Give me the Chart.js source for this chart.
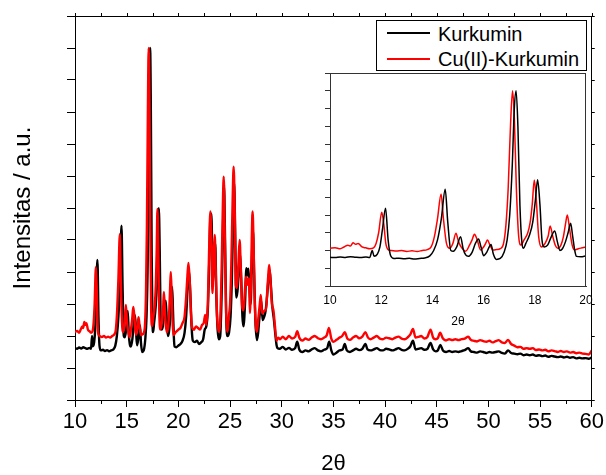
<!DOCTYPE html>
<html><head><meta charset="utf-8">
<script src="https://cdn.jsdelivr.net/npm/chart.js@4/dist/chart.umd.min.js"></script>
<style>
html,body{margin:0;padding:0;background:#fff;}
#wrap{position:relative;width:606px;height:475px;font-family:"Liberation Sans",Arial,sans-serif;overflow:hidden;}
#main{position:absolute;left:0;top:0;}
#inset{position:absolute;left:300px;top:60px;}
#legend{position:absolute;left:376px;top:20px;width:211px;height:51px;box-sizing:border-box;border:1px solid #000;background:#fff;}
.row{position:absolute;left:0;height:24px;width:200px;}
.sw{position:absolute;left:10px;width:43px;height:0;border-top:2px solid #000;}
.lab{position:absolute;left:61px;top:0;white-space:nowrap;font-size:20px;line-height:24px;color:#000;}
</style></head>
<body>
<div id="wrap">
<canvas id="main" width="606" height="475"></canvas>
<canvas id="inset" width="300" height="275"></canvas>
<div id="legend"></div>
</div>
<script>
// ---- data: [2θ, intensity (a.u., axis-tick units)] ----
const seriesNames = ['Kurkumin', 'Cu(II)-Kurkumin'];
const seriesColors = ['#000000', '#ff0000'];
const mainXTicks = [10, 15, 20, 25, 30, 35, 40, 45, 50, 55, 60];
const insetXTicks = [10, 12, 14, 16, 18, 20];

const kurkumin = [
[10.0,1.62],[10.2,1.60],[10.4,1.64],[10.6,1.61],[10.8,1.65],[11.0,1.62],[11.2,1.60],[11.4,1.63],[11.55,1.60],[11.65,2.0],[11.72,1.68],[11.85,1.8],[11.95,2.2],[12.05,3.2],[12.17,4.38],[12.27,2.6],[12.37,1.7],[12.5,1.55],[12.7,1.57],[12.9,1.53],[13.1,1.56],[13.3,1.52],[13.5,1.55],[13.7,1.58],[13.9,1.7],[14.05,2.0],[14.2,2.6],[14.35,3.8],[14.5,5.45],[14.6,3.6],[14.72,2.0],[14.82,1.96],[14.95,2.2],[15.1,2.78],[15.2,2.1],[15.3,1.75],[15.4,1.67],[15.55,1.9],[15.68,2.4],[15.8,2.65],[15.9,2.2],[16.0,1.71],[16.12,1.9],[16.22,2.2],[16.29,2.34],[16.38,1.8],[16.5,1.5],[16.65,1.55],[16.8,1.9],[16.92,2.6],[17.02,4.0],[17.12,6.8],[17.2,10.0],[17.27,11.0],[17.34,9.0],[17.42,4.5],[17.5,2.4],[17.56,2.12],[17.65,2.4],[17.8,2.9],[17.92,3.6],[18.02,4.8],[18.11,5.99],[18.2,4.6],[18.28,2.6],[18.37,2.2],[18.5,2.3],[18.62,2.7],[18.78,3.1],[18.88,2.5],[18.98,2.0],[19.08,2.1],[19.2,2.5],[19.3,3.0],[19.4,3.53],[19.48,2.8],[19.56,2.0],[19.63,1.67],[19.8,1.65],[20.0,1.7],[20.2,1.75],[20.4,1.85],[20.6,2.1],[20.75,2.6],[20.88,3.4],[21.02,4.06],[21.15,3.4],[21.28,2.3],[21.4,1.85],[21.6,1.81],[21.8,1.85],[22.0,1.75],[22.2,1.8],[22.4,1.9],[22.55,2.2],[22.7,2.3],[22.85,2.8],[22.98,4.2],[23.12,5.83],[23.22,5.6],[23.33,3.6],[23.45,4.4],[23.57,4.9],[23.68,3.2],[23.8,2.2],[23.92,1.9],[24.05,2.0],[24.18,3.2],[24.3,5.0],[24.42,6.72],[24.52,5.0],[24.63,2.6],[24.75,2.0],[24.9,2.1],[25.05,2.6],[25.18,3.8],[25.3,5.6],[25.4,6.78],[25.5,5.2],[25.6,3.2],[25.72,3.4],[25.85,4.0],[25.97,4.59],[26.08,3.8],[26.2,2.6],[26.3,2.3],[26.45,3.0],[26.58,4.12],[26.68,3.9],[26.78,4.1],[26.88,3.5],[27.0,3.0],[27.1,4.2],[27.22,5.3],[27.33,4.0],[27.45,2.5],[27.6,1.87],[27.72,2.1],[27.85,2.6],[28.02,3.1],[28.15,2.5],[28.3,2.6],[28.45,2.8],[28.6,3.3],[28.72,3.8],[28.84,4.06],[28.95,3.6],[29.1,2.9],[29.25,2.5],[29.4,2.0],[29.5,1.72],[29.6,1.62],
[29.8,1.6],[30.1,1.66],[30.4,1.58],[30.7,1.63],[31.0,1.57],[31.3,1.62],[31.5,1.82],[31.7,1.58],[32.0,1.5],[32.3,1.55],[32.6,1.52],[32.9,1.58],[33.2,1.62],[33.5,1.55],[33.8,1.52],[34.1,1.57],[34.4,1.62],[34.6,1.82],[34.8,1.55],[35.0,1.42],[35.3,1.48],[35.6,1.55],[35.9,1.58],[36.1,1.75],[36.3,1.55],[36.6,1.5],[36.9,1.55],[37.2,1.6],[37.5,1.56],[37.8,1.6],[38.1,1.75],[38.3,1.58],[38.6,1.55],[38.9,1.58],[39.2,1.62],[39.5,1.56],[39.8,1.55],[40.1,1.6],[40.4,1.58],[40.7,1.55],[41.0,1.58],[41.3,1.62],[41.6,1.57],[41.9,1.55],[42.2,1.6],[42.45,1.68],[42.7,1.85],[42.95,1.58],[43.2,1.6],[43.5,1.62],[43.8,1.57],[44.1,1.6],[44.4,1.78],[44.65,1.58],[44.9,1.52],[45.1,1.55],[45.35,1.72],[45.6,1.55],[45.9,1.5],[46.2,1.53],[46.5,1.5],[46.8,1.52],[47.1,1.5],[47.4,1.53],[47.7,1.56],[48.05,1.62],[48.3,1.52],[48.6,1.5],[48.9,1.48],[49.2,1.52],[49.5,1.5],[49.8,1.47],[50.1,1.5],[50.4,1.48],[50.7,1.5],[51.0,1.52],[51.3,1.47],[51.6,1.45],[51.9,1.55],[52.2,1.47],[52.5,1.45],[52.8,1.43],[53.1,1.45],[53.4,1.4],[53.7,1.42],[54.0,1.4],[54.3,1.42],[54.6,1.38],[54.9,1.4],[55.2,1.37],[55.5,1.39],[55.8,1.35],[56.1,1.38],[56.4,1.36],[56.7,1.34],[57.0,1.36],[57.3,1.33],[57.6,1.35],[57.9,1.32],[58.2,1.34],[58.5,1.3],[58.8,1.32],[59.1,1.3],[59.4,1.31],[59.7,1.29],[60.0,1.33]
];

const cuKurkumin = [
[10.0,2.12],[10.2,2.16],[10.4,2.1],[10.55,2.2],[10.7,2.3],[10.8,2.25],[10.9,2.44],[11.0,2.35],[11.1,2.4],[11.25,2.2],[11.4,2.15],[11.55,2.1],[11.7,2.15],[11.8,2.4],[11.9,3.0],[12.02,4.15],[12.1,3.5],[12.18,2.4],[12.27,2.05],[12.4,2.0],[12.6,1.97],[12.8,2.0],[13.0,1.95],[13.2,1.98],[13.4,1.95],[13.6,2.0],[13.8,2.05],[13.95,2.2],[14.08,2.8],[14.2,3.8],[14.34,5.18],[14.43,3.8],[14.55,2.4],[14.68,2.12],[14.8,2.4],[14.92,2.97],[15.02,2.5],[15.12,2.2],[15.3,1.96],[15.45,2.3],[15.55,2.6],[15.64,2.91],[15.75,2.6],[15.88,2.03],[16.0,2.2],[16.08,2.4],[16.15,2.59],[16.25,2.3],[16.37,2.03],[16.5,2.05],[16.65,2.1],[16.78,2.4],[16.87,3.4],[16.96,5.5],[17.05,9.0],[17.13,11.0],[17.2,9.5],[17.28,5.5],[17.37,2.8],[17.46,2.31],[17.58,2.6],[17.72,2.97],[17.82,3.6],[17.9,4.6],[17.98,5.97],[18.06,4.8],[18.15,2.8],[18.26,2.2],[18.4,2.4],[18.52,2.8],[18.6,3.38],[18.7,2.8],[18.8,2.3],[18.9,2.12],[19.02,2.3],[19.12,2.8],[19.2,3.5],[19.27,4.0],[19.36,3.2],[19.46,2.3],[19.55,2.03],[19.7,2.1],[19.85,2.15],[20.0,2.2],[20.2,2.25],[20.4,2.4],[20.6,2.6],[20.75,3.2],[20.88,3.9],[20.98,4.28],[21.1,3.7],[21.22,2.7],[21.35,2.25],[21.5,2.19],[21.7,2.3],[21.9,2.25],[22.1,2.2],[22.3,2.35],[22.45,2.4],[22.6,2.66],[22.7,2.35],[22.85,3.0],[22.97,4.6],[23.1,5.89],[23.2,5.0],[23.3,3.34],[23.42,4.6],[23.52,5.16],[23.62,4.0],[23.75,2.6],[23.9,2.13],[24.05,2.5],[24.18,4.0],[24.3,6.0],[24.39,6.98],[24.48,5.4],[24.6,3.0],[24.75,2.13],[24.88,2.6],[25.0,3.0],[25.12,4.2],[25.25,6.2],[25.35,7.29],[25.45,6.0],[25.56,3.6],[25.68,3.5],[25.8,4.2],[25.93,5.0],[26.05,4.0],[26.18,2.9],[26.3,2.8],[26.42,3.3],[26.54,3.85],[26.66,3.6],[26.78,3.8],[26.84,3.75],[26.92,2.72],[27.02,3.6],[27.1,5.0],[27.18,5.89],[27.27,5.0],[27.38,3.2],[27.5,2.3],[27.6,2.13],[27.72,2.5],[27.85,2.9],[27.98,3.28],[28.1,2.7],[28.22,2.75],[28.35,2.8],[28.48,2.8],[28.6,3.4],[28.7,3.9],[28.79,4.22],[28.9,3.8],[29.05,3.0],[29.2,2.8],[29.35,2.3],[29.5,1.85],[29.65,1.95],
[29.85,1.9],[30.1,1.98],[30.4,1.9],[30.7,2.0],[31.0,1.92],[31.3,1.97],[31.5,2.15],[31.7,1.95],[32.0,1.86],[32.3,1.92],[32.6,1.88],[32.9,1.95],[33.2,2.0],[33.5,1.93],[33.8,1.9],[34.1,1.95],[34.35,2.02],[34.57,2.25],[34.8,1.92],[35.0,1.82],[35.3,1.88],[35.6,1.95],[35.85,2.0],[36.1,2.12],[36.35,1.92],[36.6,1.88],[36.9,1.95],[37.2,2.0],[37.5,1.93],[37.8,1.98],[38.1,2.12],[38.35,1.95],[38.6,1.9],[38.9,1.95],[39.2,2.0],[39.5,1.92],[39.8,1.9],[40.1,1.95],[40.4,1.93],[40.7,1.9],[41.0,1.95],[41.3,1.98],[41.6,1.92],[41.9,1.9],[42.2,1.96],[42.45,2.05],[42.7,2.22],[42.95,1.95],[43.2,1.97],[43.5,2.0],[43.8,1.92],[44.1,1.97],[44.4,2.2],[44.65,1.95],[44.9,1.9],[45.1,1.93],[45.33,2.1],[45.6,1.92],[45.9,1.86],[46.2,1.9],[46.5,1.87],[46.8,1.9],[47.1,1.87],[47.4,1.9],[47.7,1.92],[48.05,1.98],[48.3,1.88],[48.6,1.85],[48.9,1.83],[49.2,1.87],[49.5,1.84],[49.8,1.82],[50.1,1.85],[50.4,1.8],[50.7,1.84],[51.0,1.87],[51.3,1.8],[51.6,1.78],[51.9,1.88],[52.2,1.75],[52.5,1.7],[52.8,1.65],[53.1,1.66],[53.4,1.6],[53.7,1.62],[54.0,1.6],[54.3,1.62],[54.6,1.56],[54.9,1.58],[55.2,1.55],[55.5,1.57],[55.8,1.52],[56.1,1.55],[56.4,1.53],[56.7,1.5],[57.0,1.53],[57.3,1.5],[57.6,1.52],[57.9,1.48],[58.2,1.5],[58.5,1.46],[58.8,1.48],[59.1,1.45],[59.4,1.44],[59.7,1.42],[60.0,1.55]
];

// ---- rendering ----
const FONT = "'Liberation Sans', Arial, sans-serif";
Chart.defaults.font.family = FONT;
Chart.defaults.color = '#000';

const toPts = arr => arr.map(p => ({x: p[0], y: p[1]}));

// frame plugin: top/right box lines + minor/mirror ticks placed through the scales
const framePlugin = {
  id: 'frame',
  afterDraw(chart, args, o) {
    const {ctx, chartArea: a, scales} = chart;
    ctx.save();
    ctx.strokeStyle = o.color; ctx.lineWidth = 1;
    ctx.beginPath();
    ctx.moveTo(a.left, Math.round(a.top) + 0.5); ctx.lineTo(a.right, Math.round(a.top) + 0.5);
    ctx.moveTo(Math.round(a.right) - 0.5, a.top); ctx.lineTo(Math.round(a.right) - 0.5, a.bottom);
    const xt = scales.x.ticks.map(t => t.value);
    const pos = [];
    for (let i = 0; i < xt.length; i++) {
      pos.push({v: xt[i], major: true});
      if (o.minor && i < xt.length - 1) pos.push({v: (xt[i] + xt[i+1]) / 2, major: false});
    }
    pos.forEach(p => {
      const px = Math.round(scales.x.getPixelForValue(p.v)) + 0.5;
      if (!p.major && o.bottomMinor) { ctx.moveTo(px, a.bottom); ctx.lineTo(px, a.bottom + o.bottomMinor); }
      if (o.topLen) { ctx.moveTo(px, a.top); ctx.lineTo(px, a.top - o.topLen); }
    });
    if (o.rightLen) {
      scales.y.ticks.forEach(t => {
        const py = Math.round(scales.y.getPixelForValue(t.value)) + 0.5;
        ctx.moveTo(a.right, py); ctx.lineTo(a.right + o.rightLen, py);
      });
    }
    ctx.stroke();
    ctx.restore();
  }
};

function makeDatasets(bw, blackOnTop) {
  return [
    {label: seriesNames[0], data: toPts(kurkumin), borderColor: seriesColors[0], borderWidth: bw,
     pointRadius: 0, cubicInterpolationMode: 'monotone', order: blackOnTop ? 0 : 1},
    {label: seriesNames[1], data: toPts(cuKurkumin), borderColor: seriesColors[1], borderWidth: bw,
     pointRadius: 0, cubicInterpolationMode: 'monotone', order: blackOnTop ? 1 : 0}
  ];
}

new Chart(document.getElementById('main'), {
  type: 'line',
  data: {datasets: makeDatasets(2.4, false)},
  options: {
    responsive: false, animation: false, events: [],
    layout: {padding: {top: 16, right: 12, left: 0, bottom: 0}},
    plugins: {legend: {display: false}, tooltip: {enabled: false},
      frame: {color: '#000', minor: true, bottomMinor: 4, topLen: 3, rightLen: 3}},
    scales: {
      x: {type: 'linear', position: 'bottom', min: 10, max: 60,
        afterBuildTicks: s => { s.ticks = mainXTicks.map(v => ({value: v})); },
        ticks: {font: {size: 22}, color: '#000', padding: 2, maxRotation: 0, autoSkip: false},
        grid: {drawOnChartArea: false, drawTicks: true, tickLength: 7, tickColor: '#000', color: '#000'},
        border: {display: true, color: '#000', width: 1},
        title: {display: true, text: '2θ', font: {size: 22, lineHeight: 1}, color: '#000', padding: {top: 0, bottom: 0}},
        afterFit: s => { s.height = 75; }
      },
      y: {type: 'linear', position: 'left', min: 0, max: 12,
        ticks: {stepSize: 1, display: false},
        grid: {drawOnChartArea: false, drawTicks: true, tickLength: 8, tickColor: '#000', color: '#000'},
        border: {display: true, color: '#000', width: 1},
        title: {display: true, text: 'Intensitas / a.u.', font: {size: 24, lineHeight: 1}, color: '#000', padding: {top: 11, bottom: 0}},
        afterFit: s => { s.width = 75; }
      }
    }
  },
  plugins: [framePlugin]
});

new Chart(document.getElementById('inset'), {
  type: 'line',
  data: {datasets: makeDatasets(1.5, true)},
  options: {
    responsive: false, animation: false, events: [],
    layout: {padding: {top: 13, right: 14, left: 0, bottom: 0}},
    plugins: {legend: {display: false}, tooltip: {enabled: false},
      frame: {color: '#333', minor: false, bottomMinor: 0, topLen: 0, rightLen: 0}},
    scales: {
      x: {type: 'linear', position: 'bottom', min: 10, max: 20,
        afterBuildTicks: s => { s.ticks = insetXTicks.map(v => ({value: v})); },
        ticks: {font: {size: 12}, color: '#000', padding: 7, maxRotation: 0, autoSkip: false},
        grid: {drawOnChartArea: false, drawTicks: false},
        border: {display: true, color: '#333', width: 1},
        title: {display: true, text: '2θ', font: {size: 12, lineHeight: 1}, color: '#000', padding: {top: 0, bottom: 7}},
        afterFit: s => { s.height = 49; }
      },
      y: {type: 'linear', position: 'left', min: 0, max: 12,
        ticks: {stepSize: 1, display: false},
        grid: {drawOnChartArea: false, drawTicks: true, tickLength: 5, tickColor: '#333', color: '#333'},
        border: {display: true, color: '#333', width: 1},
        afterFit: s => { s.width = 30; }
      }
    }
  },
  plugins: [framePlugin]
});

// legend (HTML text)
const lg = document.getElementById('legend');
const rowTops = [0.5, 25.7], lineTops = [11, 37];
seriesNames.forEach((n, i) => {
  const r = document.createElement('div'); r.className = 'row'; r.style.top = '0px';
  const sw = document.createElement('div'); sw.className = 'sw';
  sw.style.top = lineTops[i] + 'px'; sw.style.borderTopColor = seriesColors[i];
  const lb = document.createElement('div'); lb.className = 'lab'; lb.style.top = rowTops[i] + 'px';
  lb.textContent = n;
  r.appendChild(sw); r.appendChild(lb); lg.appendChild(r);
});
</script>
</body></html>
